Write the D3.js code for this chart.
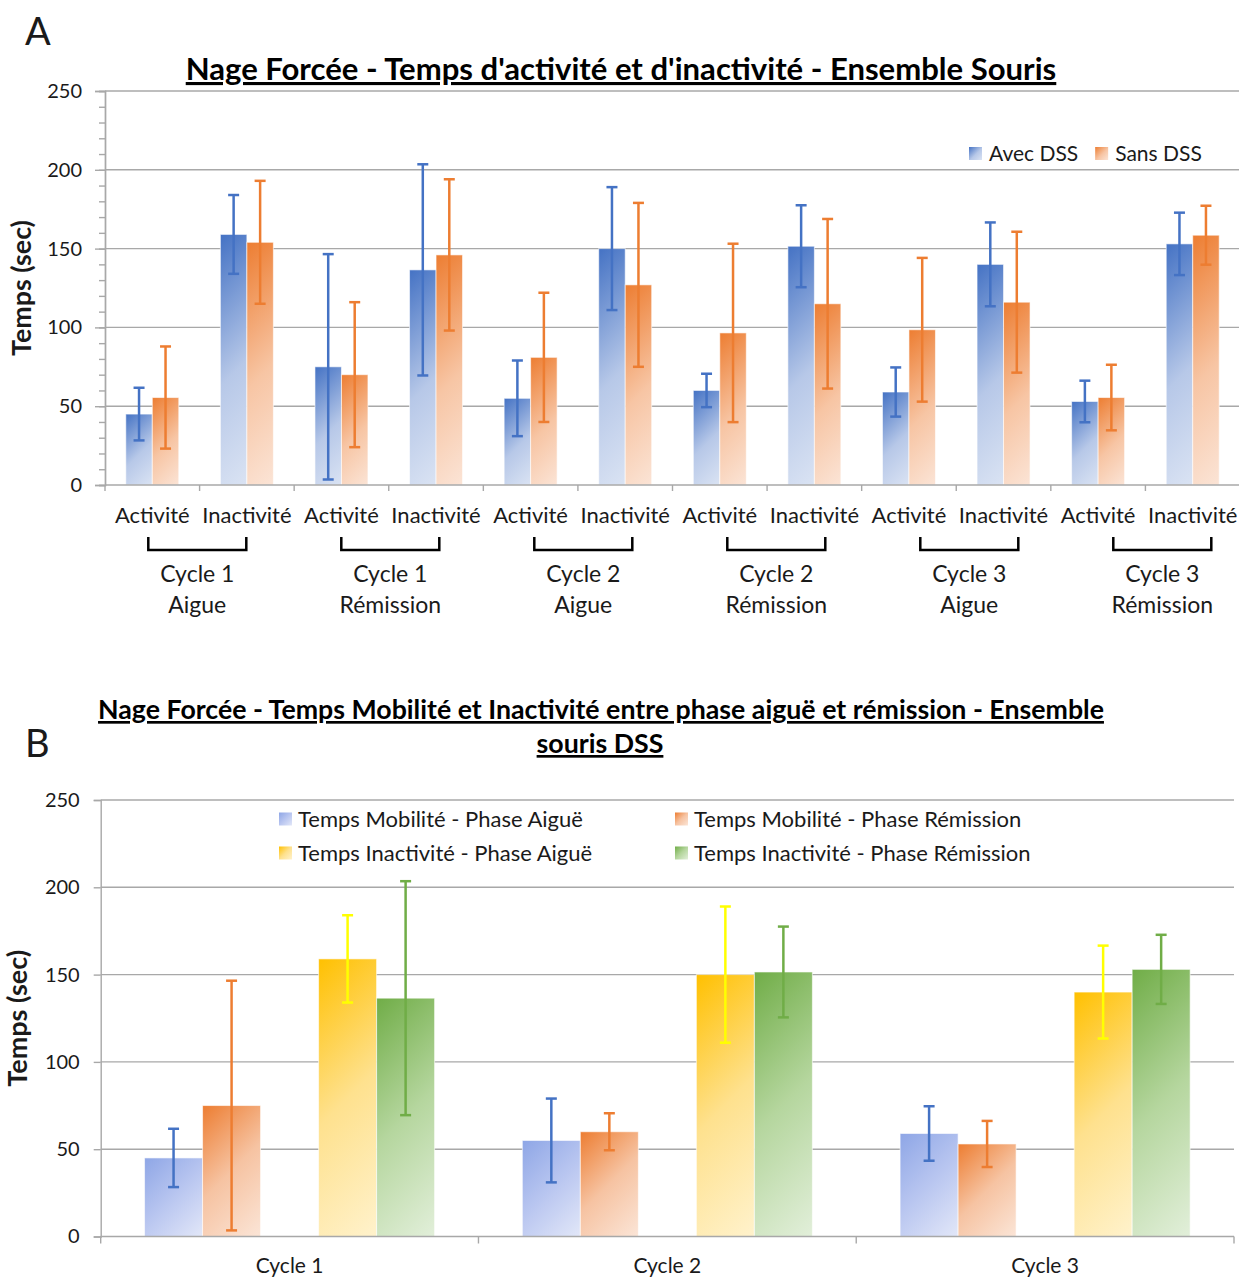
<!DOCTYPE html>
<html><head><meta charset="utf-8">
<script src="https://cdn.jsdelivr.net/npm/d3@7"></script>
<style>
body{margin:0;background:#fff;}
text{font-family:Lato,"Open Sans",sans-serif;fill:#1a1a1a;}
</style>
</head><body>
<svg id="c" width="1239" height="1280"></svg>
<script>
// ---------- DATA: chart A ----------
const categoriesA = ["Activité","Inactivité","Activité","Inactivité","Activité","Inactivité","Activité","Inactivité","Activité","Inactivité","Activité","Inactivité"];
const groupLine1A = ["Cycle 1","Cycle 1","Cycle 2","Cycle 2","Cycle 3","Cycle 3"];
const groupLine2A = ["Aigue","Rémission","Aigue","Rémission","Aigue","Rémission"];
const seriesA = ["Avec DSS","Sans DSS"];
const avecDSS    = [45, 159, 75, 136.5, 55, 150, 60, 151.5, 59, 140, 53, 153];
const avecDSSErr = [16.7, 25, 71.5, 67, 24, 39, 10.6, 26, 15.6, 26.6, 13.2, 19.8];
const sansDSS    = [55.5, 154, 70, 146, 81, 127, 96.5, 115, 98.5, 116, 55.5, 158.5];
const sansDSSErr = [32.4, 39, 46, 48, 41, 52, 56.6, 53.8, 45.6, 44.7, 20.8, 18.7];
const yTicksA = [0, 50, 100, 150, 200, 250];

// ---------- DATA: chart B ----------
const cyclesB = ["Cycle 1","Cycle 2","Cycle 3"];
const seriesB = ["Temps Mobilité - Phase Aiguë","Temps Mobilité - Phase Rémission","Temps Inactivité - Phase Aiguë","Temps Inactivité - Phase Rémission"];
const mobAigue       = [45, 55, 59];
const mobAigueErr    = [16.7, 24, 15.6];
const mobRemission   = [75, 60, 53];
const mobRemissionErr= [71.5, 10.6, 13.2];
const inactAigue     = [159, 150, 140];
const inactAigueErr  = [25, 39, 26.6];
const inactRemission = [136.5, 151.5, 153];
const inactRemissionErr = [67, 26, 19.8];
const yTicksB = [0, 50, 100, 150, 200, 250];

// ---------- styles ----------
const GRID = "#a8a8a8";
const palA = {
  "Avec DSS": {stops:[[0,"#4472C4"],[0.55,"#b7c8e8"],[1,"#dae3f3"]], err:"#4472C4"},
  "Sans DSS": {stops:[[0,"#ED7D31"],[0.55,"#f7c5a4"],[1,"#fbe4d6"]], err:"#ED7D31"}
};
const palB = [
  {stops:[[0,"#8EA6E6"],[0.5,"#b9c6f0"],[1,"#e2e7f8"]], err:"#4472C4"},
  {stops:[[0,"#ED7D31"],[0.5,"#f6c3a2"],[1,"#fbe5d7"]], err:"#ED7D31"},
  {stops:[[0,"#FFC000"],[0.5,"#fee18e"],[1,"#fff2cc"]], err:"#FFFF00"},
  {stops:[[0,"#70AD47"],[0.5,"#b5d69e"],[1,"#e2efda"]], err:"#70AD47"}
];

const svg = d3.select("#c");
const defs = svg.append("defs");
let gid = 0;
function gradFill(x, y, w, h, stops){
  const id = "g" + (gid++);
  const d = (w + h) / 2;
  const lg = defs.append("linearGradient").attr("id", id).attr("gradientUnits","userSpaceOnUse")
    .attr("x1", x).attr("y1", y).attr("x2", x + d).attr("y2", y + d);
  stops.forEach(s => lg.append("stop").attr("offset", s[0]).attr("stop-color", s[1]));
  return `url(#${id})`;
}
function fitText(sel, target){
  const fs = parseFloat(sel.style("font-size"));
  const w = sel.node().getComputedTextLength();
  sel.style("font-size", (fs * target / w) + "px");
}

// ================= CHART A =================
const A = {left:105, right:1240, top:91, bottom:485};
const xA = d3.scaleBand().domain(d3.range(categoriesA.length)).range([A.left, A.right]);
const xInA = d3.scaleBand().domain(seriesA).range([0, xA.bandwidth()]).paddingOuter(0.785);
const yA = d3.scaleLinear().domain([0, 250]).range([A.bottom, A.top]);

svg.append("text").attr("x", 25).attr("y", 45).style("font-size","38px").text("A");
const tA = svg.append("text").attr("x", 621).attr("y", 80).attr("text-anchor","middle")
  .style("font-size","26px").style("font-weight","bold").style("text-decoration","underline").style("fill","#000")
  .text("Nage Forcée - Temps d'activité et d'inactivité - Ensemble Souris");
fitText(tA, 871);

// gridlines
svg.append("g").selectAll("line").data(yTicksA.filter(d => d > 0)).join("line")
  .attr("x1", A.left).attr("x2", A.right).attr("y1", d => yA(d)).attr("y2", d => yA(d))
  .attr("stroke", GRID).attr("stroke-width", 1.4);

// y axis (minor + major)
const gMinA = svg.append("g").attr("transform", `translate(${A.left},0)`)
  .call(d3.axisLeft(yA).tickValues(d3.range(0, 251, 10)).tickSize(6).tickFormat(""));
const gYA = svg.append("g").attr("transform", `translate(${A.left},0)`)
  .call(d3.axisLeft(yA).tickValues(yTicksA).tickSize(10).tickPadding(13));
[gMinA, gYA].forEach(g => { g.selectAll("line, path").attr("stroke", GRID).attr("stroke-width", 1.4); });
gYA.selectAll("text").style("font-size","20px").style("font-family","Lato").attr("fill","#1a1a1a");
const ytA = svg.append("text").attr("transform", `translate(31,${(A.top + A.bottom) / 2}) rotate(-90)`)
  .attr("text-anchor","middle").style("font-size","22px").style("font-weight","bold").text("Temps (sec)");
fitText(ytA, 136);

// bars A
const dataA = [];
categoriesA.forEach((c, i) => {
  dataA.push({i, s:"Avec DSS", v:avecDSS[i], e:avecDSSErr[i]});
  dataA.push({i, s:"Sans DSS", v:sansDSS[i], e:sansDSSErr[i]});
});
const barsA = svg.append("g");
dataA.forEach(d => {
  const x = xA(d.i) + xInA(d.s), w = xInA.bandwidth(), y = yA(d.v), h = yA(0) - yA(d.v);
  barsA.append("rect").attr("x", x).attr("y", y).attr("width", w).attr("height", h)
    .attr("fill", gradFill(x, y, w, h, palA[d.s].stops))
    .attr("stroke","#ffffff").attr("stroke-opacity",0.6).attr("stroke-width",1);
});
const errA = svg.append("g");
dataA.forEach(d => {
  const cx = xA(d.i) + xInA(d.s) + xInA.bandwidth() / 2;
  const col = palA[d.s].err;
  errA.append("line").attr("x1", cx).attr("x2", cx).attr("y1", yA(d.v + d.e)).attr("y2", yA(d.v - d.e))
    .attr("stroke", col).attr("stroke-width", 2.5);
  [d.v + d.e, d.v - d.e].forEach(v => errA.append("line").attr("x1", cx - 5.5).attr("x2", cx + 5.5)
    .attr("y1", yA(v)).attr("y2", yA(v)).attr("stroke", col).attr("stroke-width", 2.5));
});

// x axis A
svg.append("line").attr("x1", A.left).attr("x2", A.right).attr("y1", A.bottom).attr("y2", A.bottom)
  .attr("stroke", GRID).attr("stroke-width", 1.4);
const bndA = d3.range(categoriesA.length).map(i => xA(i)).concat([A.right]);
svg.append("g").selectAll("line").data(bndA).join("line")
  .attr("x1", d => d).attr("x2", d => d).attr("y1", A.bottom).attr("y2", A.bottom + 6)
  .attr("stroke", GRID).attr("stroke-width", 1.4);
svg.append("g").selectAll("text").data(categoriesA).join("text")
  .attr("x", (d, i) => xA(i) + xA.bandwidth() / 2).attr("y", 523).attr("text-anchor","middle")
  .style("font-size","22px").text(d => d);

// group brackets + labels
const grpA = d3.scaleBand().domain(d3.range(groupLine1A.length)).range([100.8, 1258.8]);
const gBr = svg.append("g");
groupLine1A.forEach((g, i) => {
  const cx = grpA(i) + grpA.bandwidth() / 2;
  gBr.append("path").attr("d", `M${cx - 49},537V550H${cx + 49}V537`).attr("fill","none")
    .attr("stroke","#000").attr("stroke-width", 2.5);
  gBr.append("text").attr("x", cx).attr("y", 582).attr("text-anchor","middle").style("font-size","23px").text(g);
  gBr.append("text").attr("x", cx).attr("y", 613).attr("text-anchor","middle").style("font-size","23px").text(groupLine2A[i]);
});

// legend A
let lx = 969;
seriesA.forEach(s => {
  svg.append("rect").attr("x", lx).attr("y", 147).attr("width", 13).attr("height", 13)
    .attr("fill", gradFill(lx, 147, 13, 13, palA[s].stops));
  const t = svg.append("text").attr("x", lx + 20).attr("y", 161).style("font-size","21px").text(s);
  lx += 20 + t.node().getComputedTextLength() + 17;
});

// ================= CHART B =================
const B = {left:100.7, right:1234, top:800, bottom:1236.5};
const slotsB = ["mA","mR","gap","iA","iR"];
const xB = d3.scaleBand().domain(cyclesB).range([B.left, B.right]);
const xInB = d3.scaleBand().domain(slotsB).range([0, xB.bandwidth()]).paddingOuter(0.756);
const yB = d3.scaleLinear().domain([0, 250]).range([B.bottom, B.top]);

const tB1 = svg.append("text").attr("x", 601).attr("y", 719).attr("text-anchor","middle")
  .style("font-size","26px").style("font-weight","bold").style("text-decoration","underline").style("fill","#000")
  .text("Nage Forcée - Temps Mobilité et Inactivité entre phase aiguë et rémission - Ensemble");
fitText(tB1, 1006);
svg.append("text").attr("x", 600).attr("y", 753).attr("text-anchor","middle")
  .style("font-size", tB1.style("font-size")).style("font-weight","bold").style("text-decoration","underline").style("fill","#000")
  .text("souris DSS");
svg.append("text").attr("x", 25).attr("y", 757).style("font-size","38px").text("B");

svg.append("g").selectAll("line").data(yTicksB.filter(d => d > 0)).join("line")
  .attr("x1", B.left).attr("x2", B.right).attr("y1", d => yB(d)).attr("y2", d => yB(d))
  .attr("stroke", GRID).attr("stroke-width", 1.4);
const gYB = svg.append("g").attr("transform", `translate(${B.left},0)`)
  .call(d3.axisLeft(yB).tickValues(yTicksB).tickSize(7).tickPadding(14));
gYB.selectAll("line, path").attr("stroke", GRID).attr("stroke-width", 1.4);
gYB.selectAll("text").style("font-size","20px").style("font-family","Lato").attr("fill","#1a1a1a");
const ytB = svg.append("text").attr("transform", `translate(27,${(B.top + B.bottom) / 2}) rotate(-90)`)
  .attr("text-anchor","middle").style("font-size","22px").style("font-weight","bold").text("Temps (sec)");
fitText(ytB, 137);

const seriesValsB = [
  {slot:"mA", v:mobAigue, e:mobAigueErr},
  {slot:"mR", v:mobRemission, e:mobRemissionErr},
  {slot:"iA", v:inactAigue, e:inactAigueErr},
  {slot:"iR", v:inactRemission, e:inactRemissionErr}
];
const dataB = [];
cyclesB.forEach((c, ci) => seriesValsB.forEach((s, si) => dataB.push({c, si, slot:s.slot, v:s.v[ci], e:s.e[ci]})));
const barsB = svg.append("g");
dataB.forEach(d => {
  const x = xB(d.c) + xInB(d.slot), w = xInB.bandwidth(), y = yB(d.v), h = yB(0) - yB(d.v);
  barsB.append("rect").attr("x", x).attr("y", y).attr("width", w).attr("height", h)
    .attr("fill", gradFill(x, y, w, h, palB[d.si].stops))
    .attr("stroke","#ffffff").attr("stroke-opacity",0.6).attr("stroke-width",1);
});
const errB = svg.append("g");
dataB.forEach(d => {
  const cx = xB(d.c) + xInB(d.slot) + xInB.bandwidth() / 2;
  const col = palB[d.si].err;
  errB.append("line").attr("x1", cx).attr("x2", cx).attr("y1", yB(d.v + d.e)).attr("y2", yB(d.v - d.e))
    .attr("stroke", col).attr("stroke-width", 2.5);
  [d.v + d.e, d.v - d.e].forEach(v => errB.append("line").attr("x1", cx - 5.5).attr("x2", cx + 5.5)
    .attr("y1", yB(v)).attr("y2", yB(v)).attr("stroke", col).attr("stroke-width", 2.5));
});

svg.append("line").attr("x1", B.left).attr("x2", B.right).attr("y1", B.bottom).attr("y2", B.bottom)
  .attr("stroke", GRID).attr("stroke-width", 1.4);
const bndB = cyclesB.map(c => xB(c)).concat([B.right]);
svg.append("g").selectAll("line").data(bndB).join("line")
  .attr("x1", d => d).attr("x2", d => d).attr("y1", B.bottom).attr("y2", B.bottom + 7)
  .attr("stroke", GRID).attr("stroke-width", 1.4);
svg.append("g").selectAll("text").data(cyclesB).join("text")
  .attr("x", d => xB(d) + xB.bandwidth() / 2).attr("y", 1273).attr("text-anchor","middle")
  .style("font-size","21px").text(d => d);

// legend B (2 x 2)
const legColX = [279, 675], legRowY = [819, 853];
seriesB.forEach((s, i) => {
  const x = legColX[i % 2], y = legRowY[Math.floor(i / 2)];
  svg.append("rect").attr("x", x).attr("y", y - 6.5).attr("width", 13).attr("height", 13)
    .attr("fill", gradFill(x, y - 6.5, 13, 13, palB[i].stops));
  svg.append("text").attr("x", x + 19).attr("y", y + 7.5).style("font-size","22px").text(s);
});
</script>
</body></html>
